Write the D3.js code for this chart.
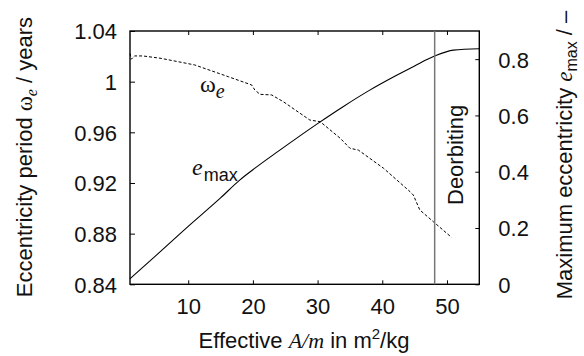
<script src="https://cdn.jsdelivr.net/npm/d3@7"></script>

<svg id="vis"></svg>

<script>

  /***** DATA *****/

  // Eccentricity period omega_e (left axis)
  var omegaX = [1, 1.2, 1.7, 3, 5.8, 11, 16.2, 19.8, 20.3, 21.1, 22.9, 24.7, 28.8, 30.4, 33.5, 35, 36.3, 40.2, 44.3, 44.8, 45.8, 47.9, 50.7]
  var omegaY = [1.0222, 1.0177, 1.0203, 1.0203, 1.0184, 1.0132, 1.0039, 0.9974, 0.9934, 0.990, 0.9895, 0.9842, 0.9697, 0.9684, 0.9553, 0.9474, 0.946, 0.9316, 0.9131, 0.9105, 0.8987, 0.8894, 0.8771]

  // Maximum eccentricity e_max (right axis), solid curve
  var emaxX = [1, 5, 10, 15, 18, 20, 24, 30, 34, 38, 42, 45, 48, 51, 55]
  var emaxY = [0.02, 0.102, 0.206, 0.307, 0.371, 0.407, 0.474, 0.571, 0.632, 0.689, 0.74, 0.776, 0.81, 0.832, 0.837]

  // Deorbiting limit
  var deorbitX = 48.1

  // Ticks
  var xTicks = [10, 20, 30, 40, 50]
  var leftTicks = [0.84, 0.88, 0.92, 0.96, 1, 1.04]
  var rightTicks = [0, 0.2, 0.4, 0.6, 0.8]


  /***** SETUP *****/

  var width = 584
  var height = 356
  var plot = {left: 130, right: 479.3, top: 31, bottom: 284.3}
  var font = 'Liberation Sans, Arial, sans-serif'
  var serif = 'Liberation Serif, Times New Roman, serif'

  var svg = d3.select('#vis')
  .attr('width', width)
  .attr('height', height)
  .style('background-color', 'white')
  .style('display', 'block')

  var x = d3.scaleLinear()
  .domain([1, 55])
  .range([plot.left, plot.right])

  var yLeft = d3.scaleLinear()
  .domain([0.84, 1.04])
  .range([plot.bottom, plot.top])

  var yRight = d3.scaleLinear()
  .domain([0, 0.9])
  .range([plot.bottom, plot.top])


  /***** AXES *****/

  function styleAxis(g) {
    g.select('.domain').remove()
    g.selectAll('line').attr('stroke', 'black').attr('stroke-width', 1)
    g.selectAll('text')
    .style('font-family', font)
    .style('font-size', '22px')
    .attr('fill', '#111')
  }

  svg.append('g')
  .attr('transform', 'translate(0,' + plot.bottom + ')')
  .call(d3.axisBottom(x).tickValues(xTicks).tickSizeInner(-4).tickSizeOuter(0).tickPadding(14))
  .call(styleAxis)

  svg.append('g')
  .attr('transform', 'translate(0,' + plot.top + ')')
  .call(d3.axisTop(x).tickValues(xTicks).tickSizeInner(-4).tickSizeOuter(0).tickFormat(''))
  .call(styleAxis)

  svg.append('g')
  .attr('transform', 'translate(' + plot.left + ',0)')
  .call(d3.axisLeft(yLeft).tickValues(leftTicks).tickSizeInner(-5).tickSizeOuter(0).tickPadding(13)
    .tickFormat(function(d) { return String(+d.toFixed(2)) }))
  .call(styleAxis)
  .selectAll('text').attr('dy', '0.36em')

  svg.append('g')
  .attr('transform', 'translate(' + plot.right + ',0)')
  .call(d3.axisRight(yRight).tickValues(rightTicks).tickSizeInner(-4).tickSizeOuter(0).tickPadding(19)
    .tickFormat(function(d) { return String(+d.toFixed(1)) }))
  .call(styleAxis)
  .selectAll('text').attr('dy', '0.36em')

  // Frame
  svg.append('rect')
  .attr('x', plot.left)
  .attr('y', plot.top)
  .attr('width', plot.right - plot.left)
  .attr('height', plot.bottom - plot.top)
  .attr('fill', 'none')
  .attr('stroke', 'black')
  .attr('stroke-width', 1.4)


  /***** CURVES *****/

  var omegaLine = d3.line()
  .x(function(d, i) { return x(omegaX[i]) })
  .y(function(d) { return yLeft(d) })

  var emaxLine = d3.line()
  .x(function(d, i) { return x(emaxX[i]) })
  .y(function(d) { return yRight(d) })
  .curve(d3.curveMonotoneX)

  svg.append('path')
  .attr('d', omegaLine(omegaY))
  .attr('fill', 'none')
  .attr('stroke', 'black')
  .attr('stroke-width', 1)
  .attr('stroke-dasharray', '3,2')

  svg.append('path')
  .attr('d', emaxLine(emaxY))
  .attr('fill', 'none')
  .attr('stroke', 'black')
  .attr('stroke-width', 1.1)

  // Deorbiting line
  svg.append('line')
  .attr('x1', x(deorbitX))
  .attr('x2', x(deorbitX))
  .attr('y1', plot.top)
  .attr('y2', plot.bottom)
  .attr('stroke', '#777')
  .attr('stroke-width', 1.5)

  svg.append('text')
  .text('Deorbiting')
  .attr('transform', 'translate(' + (x(deorbitX) + 28) + ',205) rotate(-90)')
  .style('font-family', font)
  .style('font-size', '22px')
  .attr('fill', '#111')


  /***** CURVE LABELS *****/

  var omegaLabel = svg.append('text')
  .attr('x', 200)
  .attr('y', 91.5)
  .attr('fill', '#111')
  omegaLabel.append('tspan').text('ω').style('font-family', serif).style('font-size', '24px')
  omegaLabel.append('tspan').text('e').attr('dy', 6).style('font-family', serif)
  .style('font-style', 'italic').style('font-size', '20px')

  var emaxLabel = svg.append('text')
  .attr('x', 192)
  .attr('y', 175)
  .attr('fill', '#111')
  emaxLabel.append('tspan').text('e').style('font-family', serif)
  .style('font-style', 'italic').style('font-size', '24px')
  emaxLabel.append('tspan').text('max').attr('dy', 6).attr('dx', 1).style('font-family', font).style('font-size', '18px')


  /***** AXIS TITLES *****/

  var xTitle = svg.append('text')
  .attr('x', 304)
  .attr('y', 348)
  .attr('text-anchor', 'middle')
  .attr('fill', '#111')
  .style('font-family', font)
  .style('font-size', '22px')
  xTitle.append('tspan').text('Effective ')
  xTitle.append('tspan').text('A/m').style('font-family', serif).style('font-style', 'italic')
  xTitle.append('tspan').text(' in m')
  xTitle.append('tspan').text('2').attr('dy', -9).style('font-size', '15px')
  xTitle.append('tspan').text('/kg').attr('dy', 9)

  var leftTitle = svg.append('text')
  .attr('transform', 'translate(32,157) rotate(-90)')
  .attr('text-anchor', 'middle')
  .attr('fill', '#111')
  .style('font-family', font)
  .style('font-size', '22px')
  leftTitle.append('tspan').text('Eccentricity period ')
  leftTitle.append('tspan').text('ω').style('font-family', serif).style('font-size', '23px')
  leftTitle.append('tspan').text('e').attr('dy', 5).style('font-family', serif).style('font-style', 'italic').style('font-size', '16px')
  leftTitle.append('tspan').text(' / years').attr('dy', -5)

  var rightTitle = svg.append('text')
  .attr('transform', 'translate(572,155) rotate(-90)')
  .attr('text-anchor', 'middle')
  .attr('fill', '#111')
  .style('font-family', font)
  .style('font-size', '22px')
  rightTitle.append('tspan').text('Maximum eccentricity ')
  rightTitle.append('tspan').text('e').style('font-family', serif).style('font-style', 'italic').style('font-size', '23px')
  rightTitle.append('tspan').text('max').attr('dy', 5).style('font-size', '16px')
  rightTitle.append('tspan').text(' / –').attr('dy', -5)

</script>

<body style="margin: 0;"></body>
